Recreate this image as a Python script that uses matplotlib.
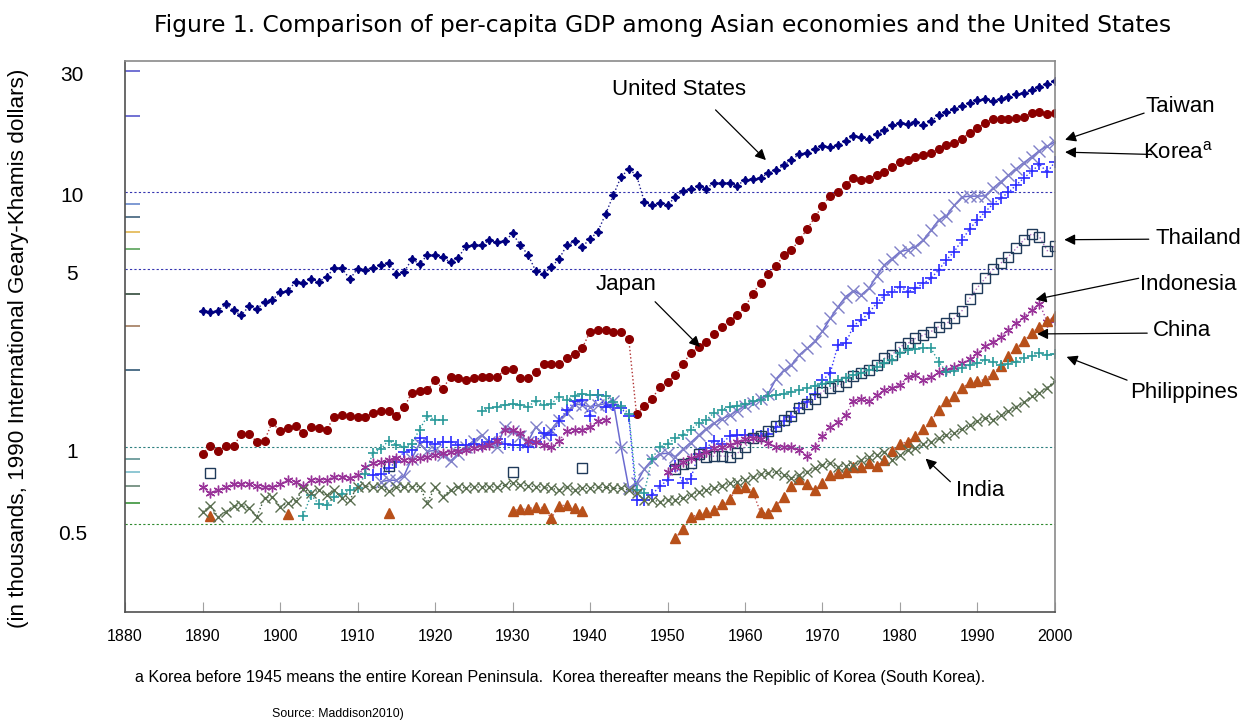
import numpy as np
import matplotlib
matplotlib.use('Agg')
import matplotlib.pyplot as plt
from matplotlib import transforms

# per-capita GDP, thousands of 1990 GK dollars (chart years)
years = list(range(1890, 2001))

us = [3.42, 3.392, 3.428, 3.644, 3.444, 3.286, 3.58, 3.468, 3.722, 3.78,
      4.051, 4.091, 4.464, 4.421, 4.567, 4.464, 4.642, 5.062, 5.035, 4.56,
      5.017, 4.964, 5.046, 5.201, 5.301, 4.799, 4.864, 5.459, 5.248, 5.659,
      5.68, 5.552, 5.323, 5.54, 6.164, 6.195, 6.205, 6.481, 6.413, 6.422,
      6.899, 6.213, 5.691, 4.908, 4.777, 5.114, 5.467, 6.204, 6.43, 6.126,
      6.561, 7.01, 8.206, 9.741, 11.518, 12.333, 11.709, 9.197, 8.886, 9.065,
      8.944, 9.561, 10.116, 10.316, 10.613, 10.359, 10.897, 10.914, 10.92, 10.631,
      11.23, 11.328, 11.402, 11.905, 12.242, 12.773, 13.419, 14.134, 14.33, 14.863,
      15.179, 15.03, 15.304, 15.944, 16.689, 16.491, 16.284, 16.975, 17.567, 18.373,
      18.789, 18.577, 18.856, 18.325, 19.047, 20.123, 20.717, 21.236, 21.788, 22.499,
      23.059, 23.201, 22.849, 23.298, 23.616, 24.284, 24.603, 25.207, 25.996, 26.723,
      27.436]

japan = [0.94, 1.012, 0.96, 1.01, 1.01, 1.12, 1.12, 1.05, 1.06, 1.25,
         1.15, 1.19, 1.21, 1.13, 1.20, 1.19, 1.17, 1.31, 1.33, 1.32,
         1.31, 1.31, 1.36, 1.39, 1.387, 1.327, 1.43, 1.63, 1.66, 1.67,
         1.827, 1.696, 1.88, 1.86, 1.84, 1.86, 1.89, 1.89, 1.89, 2.0,
         2.026, 1.86, 1.86, 1.97, 2.12, 2.11, 2.12, 2.24, 2.32, 2.45,
         2.83, 2.874, 2.873, 2.818, 2.822, 2.659, 1.346, 1.444, 1.541, 1.725,
         1.80, 1.921, 2.126, 2.336, 2.474, 2.582, 2.771, 2.948, 3.136, 3.289,
         3.554, 3.986, 4.426, 4.777, 5.129, 5.668, 5.934, 6.506, 7.152, 7.983,
         8.874, 9.714, 10.04, 10.734, 11.434, 11.145, 11.344, 11.669, 12.064, 12.585,
         13.163, 13.428, 13.754, 14.078, 14.307, 14.773, 15.331, 15.679, 16.251, 17.185,
         17.943, 18.789, 19.355, 19.482, 19.478, 19.603, 19.857, 20.494, 20.761, 20.41,
         20.6]

taiwan_start = 1913
taiwan = [0.73, 0.74, 0.74, 0.77, 0.90, 1.03, 0.96,
          0.97, 0.93, 0.88, 0.94, 1.0, 1.06, 1.11, 1.05, 1.0, 1.2,
          1.15, 1.10, 1.05, 1.2, 1.11, 1.17, 1.28, 1.36, 1.48, 1.46,
          1.44, 1.46, 1.48, 1.51, 1.0, 0.69, 0.72, 0.82, 0.89, 0.94,
          0.944, 0.916, 0.98, 1.04, 1.11, 1.18, 1.24, 1.29, 1.33, 1.39,
          1.45, 1.49, 1.55, 1.62, 1.85, 2.0, 2.1, 2.3, 2.44, 2.6,
          2.85, 3.2, 3.55, 3.9, 4.11, 3.96, 4.2, 4.7, 5.2, 5.5,
          5.85, 5.95, 6.13, 6.5, 7.1, 7.8, 8.1, 8.9, 9.6, 9.67,
          9.67, 9.7, 10.4, 11.0, 11.7, 12.4, 13.1, 13.8, 14.6, 15.2,
          15.8]

korea_start = 1912
korea = [0.776, 0.78, 0.825, 0.875, 0.958, 0.973, 1.08, 1.05,
         1.03, 1.05, 1.05, 1.02, 1.02, 1.03, 1.02, 1.05, 1.07, 1.03,
         1.02, 1.02, 1.0, 1.05, 1.13, 1.11, 1.26, 1.40, 1.51, 1.53,
         1.32, 1.6, 1.43, 1.46, 1.42, 1.32, 0.62, 0.62, 0.65, 0.70,
         0.74, 0.84, 0.72, 0.75, 0.94, 0.99, 1.06, 1.03, 1.10, 1.11,
         1.11, 1.11, 1.10, 1.12, 1.2, 1.26, 1.31, 1.42, 1.5, 1.62,
         1.83, 1.95, 2.52, 2.55, 3.0, 3.15, 3.37, 3.67, 3.96, 4.08,
         4.27, 4.08, 4.2, 4.39, 4.6, 4.96, 5.44, 5.85, 6.5, 7.2,
         7.8, 8.4, 9.0, 9.5, 10.0, 10.7, 11.4, 12.1, 12.9, 12.0,
         13.2]

philippines_start = 1903
philippines = [0.537, 0.648, 0.597, 0.59, 0.638, 0.654, 0.675,
               0.688, 0.78, 0.95, 0.98, 1.06, 1.02, 1.0, 1.03, 1.17, 1.32,
               1.28, 1.28, None, None, None, None, 1.38, 1.42, 1.44, 1.46,
               1.48, 1.46, 1.44, 1.52, 1.46, 1.48, 1.57, 1.53, 1.59, 1.62,
               1.6, 1.6, 1.58, 1.5, 1.45, 1.35, 0.68, 0.66, 0.9, 1.0,
               1.03, 1.08, 1.11, 1.17, 1.24, 1.28, 1.36, 1.40, 1.44, 1.45,
               1.48, 1.51, 1.53, 1.58, 1.6, 1.62, 1.65, 1.67, 1.70, 1.74,
               1.77, 1.80, 1.83, 1.86, 1.92, 1.95, 2.0, 2.07, 2.13, 2.2,
               2.33, 2.4, 2.42, 2.44, 2.44, 2.16, 1.97, 1.99, 2.04, 2.1,
               2.13, 2.2, 2.16, 2.1, 2.12, 2.16, 2.23, 2.27, 2.33, 2.3,
               2.32]

indonesia = [0.694, 0.66, 0.678, 0.694, 0.716, 0.716, 0.716, 0.703, 0.694, 0.699,
             0.716, 0.742, 0.73, 0.703, 0.742, 0.742, 0.742, 0.764, 0.764, 0.753,
             0.776, 0.832, 0.862, 0.875, 0.889, 0.902, 0.889, 0.889, 0.902, 0.911,
             0.93, 0.944, 0.958, 0.965, 0.973, 0.988, 1.0, 1.02, 1.06, 1.17,
             1.17, 1.13, 1.06, 1.05, 1.02, 1.0, 1.06, 1.15, 1.17, 1.17,
             1.2, 1.26, 1.28, None, None, None, None, None, None, None,
             0.80, 0.837, 0.87, 0.902, 0.93, 0.958, 0.988, 1.0, 1.02, 1.05,
             1.07, 1.08, 1.07, 1.04, 1.0, 1.0, 1.0, 0.973, 0.92, 1.0,
             1.1, 1.2, 1.25, 1.34, 1.51, 1.54, 1.51, 1.6, 1.67, 1.7,
             1.75, 1.89, 1.92, 1.83, 1.88, 1.97, 2.0, 2.07, 2.14, 2.21,
             2.33, 2.49, 2.59, 2.71, 2.88, 3.06, 3.25, 3.45, 3.66, 3.1,
             3.15]

china_years = [1891, 1901, 1914] + list(range(1930, 1940)) + list(range(1951, 2001))
china = [0.537, 0.547, 0.552,
         0.56, 0.57, 0.57, 0.583, 0.577, 0.525, 0.586, 0.592, 0.577, 0.56,
         0.438, 0.475, 0.529, 0.544, 0.554, 0.566, 0.595, 0.623, 0.688, 0.699,
         0.667, 0.554, 0.549, 0.586, 0.638, 0.703, 0.746, 0.716, 0.675, 0.72,
         0.776, 0.788, 0.8, 0.837, 0.837, 0.862, 0.845, 0.889, 0.967, 1.027,
         1.05, 1.10, 1.18, 1.26, 1.40, 1.51, 1.58, 1.70, 1.80, 1.82,
         1.84, 1.94, 2.08, 2.28, 2.44, 2.61, 2.80, 2.97, 3.12, 3.27]

thailand_years = [1891, 1914, 1930, 1939] + list(range(1951, 2001))
thailand = [0.79, 0.842, 0.798, 0.827,
            0.82, 0.857, 0.862, 0.939, 0.911, 0.92, 0.922, 0.916, 0.944, 1.0,
            1.08, 1.1, 1.15, 1.21, 1.28, 1.32, 1.42, 1.48, 1.55, 1.65,
            1.70, 1.74, 1.8, 1.9, 1.96, 2.0, 2.1, 2.23, 2.3, 2.48,
            2.55, 2.67, 2.75, 2.84, 2.97, 3.06, 3.2, 3.43, 3.83, 4.23,
            4.6, 5.0, 5.27, 5.6, 6.03, 6.52, 6.87, 6.7, 5.9, 6.17]

india = [0.557, 0.586, 0.532, 0.557, 0.586, 0.59, 0.575, 0.532, 0.63, 0.638,
         0.583, 0.604, 0.615, 0.684, 0.658, 0.678, 0.648, 0.678, 0.63, 0.619,
         0.699, 0.703, 0.694, 0.694, 0.67, 0.694, 0.694, 0.699, 0.699, 0.604,
         0.694, 0.638, 0.678, 0.699, 0.688, 0.699, 0.694, 0.699, 0.694, 0.709,
         0.72, 0.709, 0.703, 0.699, 0.694, 0.688, 0.678, 0.694, 0.678, 0.688,
         0.688, 0.694, 0.694, 0.688, 0.688, 0.678, 0.658, 0.619, 0.619, 0.61,
         0.619, 0.619, 0.63, 0.648, 0.667, 0.678, 0.688, 0.705, 0.72, 0.73,
         0.742, 0.764, 0.78, 0.788, 0.8, 0.776, 0.753, 0.776, 0.8, 0.824,
         0.85, 0.862, 0.837, 0.842, 0.85, 0.889, 0.91, 0.93, 0.958, 0.889,
         0.93, 0.973, 0.988, 1.03, 1.05, 1.08, 1.11, 1.13, 1.18, 1.22,
         1.26, 1.3, 1.28, 1.34, 1.38, 1.44, 1.5, 1.58, 1.63, 1.71,
         1.82]

y_ticks = [0.5, 1, 5, 10, 30]
y_tick_labels = ['0.5', '1', '5', '10', '30']
minor_marks = [30, 20, 9, 8, 7, 6, 4, 3, 2, 0.9, 0.8, 0.7, 0.6]
minor_colors = ['#4a4ac8', '#4a4ac8', '#5b7fc8', '#2f5470', '#e0b040', '#4a9a4a',
                '#1f3a2a', '#9a7050', '#1f4a6a', '#4f8888', '#70b8c8', '#5a7a6a', '#2a8a2a']


def on_years(start, values):
    arr = np.full(len(years), np.nan)
    vals = np.array(values, dtype=float)
    i = start - years[0]
    arr[i:i + len(vals)] = vals
    return arr


def at_years(yrs, values):
    arr = np.full(len(years), np.nan)
    for y, v in zip(yrs, values):
        arr[y - years[0]] = v
    return arr


plt.rcParams['font.family'] = ['Liberation Sans', 'DejaVu Sans']
plt.rcParams['mathtext.fontset'] = 'custom'
plt.rcParams['mathtext.rm'] = 'Liberation Sans'

fig = plt.figure(figsize=(12.54, 7.22), dpi=100)
ax = fig.add_axes([0.0997, 0.1524, 0.7416, 0.7636])
x = np.array(years)

ax.plot(x, np.array(us), linestyle=':', color='#1a1a8a', lw=1.0,
        marker=(4, 1, 0), ms=6, mfc='#000080', mec='#000080')
ax.plot(x, np.array(japan), linestyle=':', color='#b03030', lw=1.0,
        marker='o', ms=5.5, mfc='#8b0000', mec='#8b0000')
ax.plot(x, on_years(taiwan_start, taiwan), linestyle='-', color='#6a6ad0', lw=1.1,
        marker='x', ms=8, mec='#8080c8', mew=1.0)
ax.plot(x, on_years(korea_start, korea), linestyle=':', color='#3030ff', lw=1.0,
        marker='+', ms=8, mec='#2a2aff', mew=1.2)
ax.plot(x, at_years(thailand_years, thailand), linestyle=':', color='#b070c0', lw=1.0,
        marker='s', ms=7.5, mfc='none', mec='#1f3a5a', mew=1.0)
ax.plot(x, np.array(indonesia, dtype=float), linestyle=':', color='#a040a0', lw=1.0,
        marker=(6, 2, 0), ms=7, mec='#993399', mew=1.0)
ax.plot(x, at_years(china_years, china), linestyle=':', color='#c05050', lw=1.0,
        marker='^', ms=7, mfc='#b8501a', mec='#b8501a')
ax.plot(x, on_years(philippines_start, philippines), linestyle=':', color='#2a9a9a', lw=1.0,
        marker='+', ms=7, mec='#2a9a9a', mew=1.2)
ax.plot(x, np.array(india), linestyle=':', color='#3a5a3a', lw=1.0,
        marker='x', ms=7, mec='#5a6e50', mew=1.0)

ax.set_yscale('log')
ax.set_xlim(1880, 2000)
ax.set_ylim(0.2247, 32.95)

# dotted reference lines and short coloured marks on the left edge
for v, c in zip([10, 5, 1, 0.5], ['#3535b0', '#3535b0', '#2f8080', '#2f8a2f']):
    ax.axhline(v, color=c, linestyle=(0, (2, 2)), lw=0.8, zorder=0)
ax.hlines(minor_marks, 0, 0.016, colors=minor_colors, lw=1.1,
          transform=ax.get_yaxis_transform(), zorder=1)

ax.set_yticks(y_ticks)
ax.set_yticklabels(y_tick_labels, fontsize=15, ha='center')
ax.yaxis.set_minor_locator(matplotlib.ticker.NullLocator())
ax.tick_params(axis='y', length=0, pad=38)
# labels sit a little below their lines in the original
for lab, dy in zip(ax.get_yticklabels(), [9, 4, 3, 2, 2]):
    lab.set_transform(lab.get_transform() +
                      transforms.ScaledTranslation(0, -dy / 100, fig.dpi_scale_trans))

ax.set_xticks(range(1880, 2001, 10))
ax.tick_params(axis='x', direction='in', length=7, color='#a0a0a0', pad=12, labelsize=11.5)

for side in ['top', 'right']:
    ax.spines[side].set_color('#8a8a8a')
for side in ['left', 'bottom']:
    ax.spines[side].set_color('#505050')
for s in ax.spines.values():
    s.set_linewidth(1.2)

arrow = dict(arrowstyle='-|>', color='black', lw=0.9, mutation_scale=16,
             shrinkA=0, shrinkB=0)
labels = [
    ('United States', (1951.5, 25.3), 'center', (1956.2, 21.1), (1962.7, 13.4)),
    ('Japan', (1944.7, 4.33), 'center', (1948.4, 3.72), (1954.2, 2.47)),
    ('Taiwan', (2011.7, 21.8), 'left', (2011.5, 20.5), (2001.3, 16.1)),
    ('Korea$^{\\mathrm{a}}$', (2011.3, 14.4), 'left', (2012.5, 14.1), (2001.3, 14.4)),
    ('Thailand', (2013.0, 6.62), 'left', (2012.1, 6.55), (2001.2, 6.52)),
    ('Indonesia', (2011.0, 4.33), 'left', (2010.8, 4.6), (1997.5, 3.8)),
    ('China', (2012.6, 2.88), 'left', (2011.9, 2.8), (1997.7, 2.78)),
    ('Philippines', (2009.7, 1.63), 'left', (2009.3, 1.83), (2001.5, 2.26)),
    ('India', (1987.2, 0.672), 'left', (1986.5, 0.73), (1983.3, 0.9)),
]
for text, pos, ha, tail, tip in labels:
    ax.annotate('', xy=tip, xytext=tail, arrowprops=arrow, annotation_clip=False)
    ax.text(pos[0], pos[1], text, fontsize=16, ha=ha, va='center', clip_on=False)

fig.text(0.528, 0.964, 'Figure 1. Comparison of per-capita GDP among Asian economies and the United States',
         ha='center', va='center', fontsize=16.8, family='DejaVu Sans')
fig.text(0.0144, 0.517, '(in thousands, 1990 International Geary-Khamis dollars)',
         rotation=90, ha='center', va='center', fontsize=16.2)
fig.text(0.1077, 0.0623, 'a Korea before 1945 means the entire Korean Peninsula.  '
         'Korea thereafter means the Repiblic of Korea (South Korea).',
         ha='left', va='center', fontsize=11.6)
fig.text(0.217, 0.011, 'Source: Maddison2010)', ha='left', va='center', fontsize=8.9)

fig.savefig('out.png', dpi=100)
